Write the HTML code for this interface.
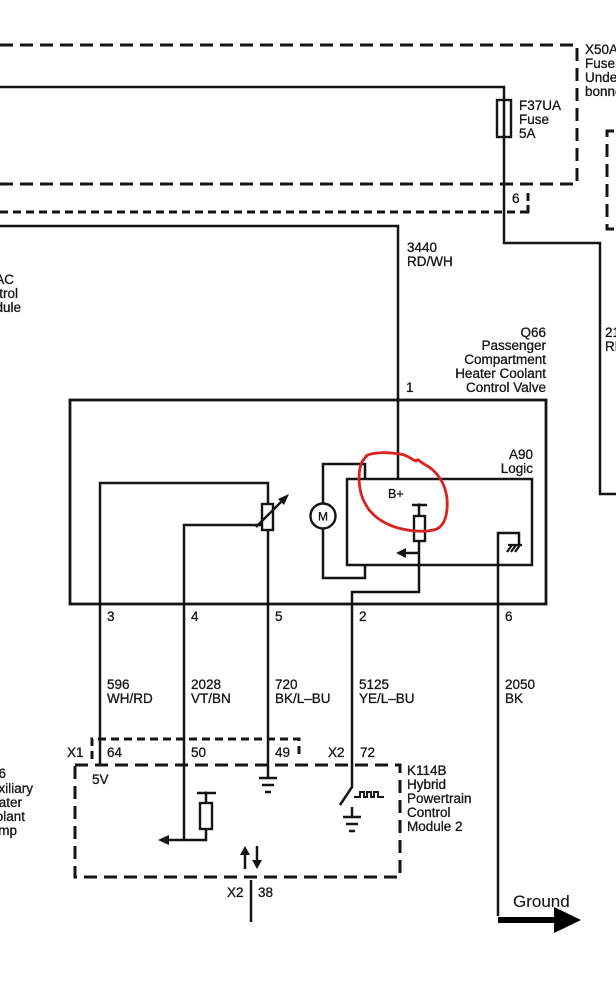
<!DOCTYPE html>
<html>
<head>
<meta charset="utf-8">
<style>
html,body{margin:0;padding:0;background:#fff;}
svg{display:block;}
text{font-family:"Liberation Sans",Arial,sans-serif;font-size:13.5px;fill:#151515;stroke:#151515;stroke-width:0.3px;}
</style>
</head>
<body>
<svg width="616" height="1000" viewBox="0 0 616 1000" xmlns="http://www.w3.org/2000/svg">
<rect x="0" y="0" width="616" height="1000" fill="#fff"/>

<!-- Dashed boxes -->
<g fill="none" stroke="#151515" stroke-width="3">
  <path d="M0,45 H577 V184 H0" stroke-dasharray="13 7"/>
  <path d="M0,212 H524" stroke-dasharray="8 5"/>
  <path d="M614,131 H607 V229 H614" stroke-dasharray="13 7"/>
  <path d="M92,759 V739 H299 V759" stroke-dasharray="8 5"/>
  <rect x="75" y="765" width="325" height="112" stroke-dasharray="13 7"/>
</g>
<path d="M528,193 V201 M528,205 V213 M521,212 H529" stroke="#151515" stroke-width="3" fill="none"/>

<!-- Solid wires -->
<g fill="none" stroke="#151515" stroke-width="2.5" stroke-linejoin="miter">
  <path d="M0,87 H504 V243 H600 V494 H616"/>
  <path d="M0,226 H398 V479"/>
  <rect x="70" y="400" width="476" height="204" stroke-width="2.8"/>
  <rect x="347" y="479" width="185" height="86"/>
  <!-- motor loop -->
  <path d="M365,479 V464 H323 V578 H365 V565"/>
  <!-- wire 3 / 5 loop -->
  <path d="M100,765 V483 H268 V778"/>
  <!-- wire 4 -->
  <path d="M262,525 H184 V840 H206 V829"/>
  <path d="M184,840 H168"/>
  <!-- wire 2 -->
  <path d="M419,541 V592 H352 V787 L340,805"/>
  <!-- wire 6 -->
  <path d="M498,916 V533 H519 V545"/>
  <!-- A90 pullup -->
  <path d="M412,505 H427 M419,505 V516"/>
  <path d="M419,553 H405"/>
  <!-- A90 chassis ground -->
  <path d="M508,545 H522 M512,545 L507,552 M516,545 L511,552 M520,545 L515,552" stroke-width="2.2"/>
  <!-- K114B pullup -->
  <path d="M197,793 H216 M206,793 V803"/>
  <!-- grounds -->
  <path d="M259,778 H277 M262,785 H274 M265,792 H271"/>
  <path d="M352,807 V817 M343,817 H361 M346,824 H358 M349,831 H355"/>
  <!-- pulse -->
  <path d="M354,797 H360 V792 H364 V797 H367 V792 H371 V797 H374 V792 H378 V797 H384" stroke-width="1.9"/>
  <!-- up/down arrows -->
  <path d="M245,869 V852 M257,846 V863"/>
  <!-- X2 38 -->
  <path d="M251,880 V922"/>
</g>

<!-- fuse, resistors, motor -->
<g fill="#fff" stroke="#151515" stroke-width="2.4">
  <rect x="497" y="100" width="14" height="37" fill="none"/>
  <rect x="262" y="504" width="11" height="26"/>
  <rect x="414" y="516" width="11" height="25"/>
  <rect x="200" y="803" width="12" height="26"/>
  <circle cx="323" cy="516" r="12.5"/>
</g>
<!-- var resistor arrow over rect -->
<path d="M256,527 L282,501" stroke="#151515" stroke-width="2.4" fill="none"/>

<!-- arrowheads -->
<g fill="#151515">
  <polygon points="289,494 278,499 284,505"/>
  <polygon points="396,553 406,548 406,558"/>
  <polygon points="158,840 169,835 169,845"/>
  <polygon points="245,846 240,855 250,855"/>
  <polygon points="257,869 252,860 262,860"/>
  <circle cx="419" cy="505" r="1.8"/>
  <circle cx="206" cy="793" r="1.5"/>
</g>

<!-- ground arrow -->
<path d="M498,920 H557" stroke="#000" stroke-width="6" fill="none"/>
<polygon points="554,907 581,920 554,933" fill="#000"/>

<!-- red circle -->
<path d="M366,456 C372,452 388,452 400,454 C408,455 412,460 416,461 C418,458 420,462 424,464 C436,470 445,482 447,498 C448,512 446,524 437,529 C425,533 410,531 398,528 C384,524 372,516 366,505 C359,494 358,478 360,468 C361,462 364,458 368,455" fill="none" stroke="#d8231f" stroke-width="2.8" stroke-linecap="round"/>

<!-- Texts -->
<text x="585" y="54">X50A</text>
<text x="585" y="68">Fuse</text>
<text x="585" y="82">Underhood</text>
<text x="585" y="96">bonnet</text>

<text x="519" y="110">F37UA</text>
<text x="519" y="124">Fuse</text>
<text x="519" y="138">5A</text>

<text x="512" y="203">6</text>

<text x="407" y="252">3440</text>
<text x="407" y="266">RD/WH</text>

<text x="14" y="284" text-anchor="end">HVAC</text>
<text x="18" y="298" text-anchor="end">Control</text>
<text x="21" y="312" text-anchor="end">Module</text>

<text x="605" y="337">2150</text>
<text x="605" y="351">RD</text>

<text x="546" y="337" text-anchor="end">Q66</text>
<text x="546" y="350" text-anchor="end">Passenger</text>
<text x="546" y="364" text-anchor="end">Compartment</text>
<text x="546" y="378" text-anchor="end">Heater Coolant</text>
<text x="546" y="392" text-anchor="end">Control Valve</text>

<text x="406" y="392">1</text>

<text x="533" y="459" text-anchor="end">A90</text>
<text x="533" y="473" text-anchor="end">Logic</text>

<text x="388" y="498" style="font-size:12.5px">B+</text>
<text x="323" y="520.5" text-anchor="middle" style="font-size:12px">M</text>

<text x="107" y="621">3</text>
<text x="191" y="621">4</text>
<text x="275" y="621">5</text>
<text x="359" y="621">2</text>
<text x="505" y="621">6</text>

<text x="107" y="689">596</text>
<text x="107" y="703">WH/RD</text>
<text x="191" y="689">2028</text>
<text x="191" y="703">VT/BN</text>
<text x="275" y="689">720</text>
<text x="275" y="703">BK/L–BU</text>
<text x="359" y="689">5125</text>
<text x="359" y="703">YE/L–BU</text>
<text x="505" y="689">2050</text>
<text x="505" y="703">BK</text>

<text x="67" y="757">X1</text>
<text x="107" y="757">64</text>
<text x="191" y="757">50</text>
<text x="275" y="757">49</text>
<text x="328" y="757">X2</text>
<text x="360" y="757">72</text>

<text x="92" y="784">5V</text>

<text x="407" y="775">K114B</text>
<text x="407" y="789">Hybrid</text>
<text x="407" y="803">Powertrain</text>
<text x="407" y="817">Control</text>
<text x="407" y="831">Module 2</text>

<text x="6" y="778" text-anchor="end">G16</text>
<text x="33" y="793" text-anchor="end">Auxiliary</text>
<text x="22" y="807" text-anchor="end">Heater</text>
<text x="25" y="821" text-anchor="end">Coolant</text>
<text x="17" y="835" text-anchor="end">Pump</text>

<text x="227" y="897">X2</text>
<text x="258" y="897">38</text>

<text x="513" y="907" style="font-size:17px;stroke-width:0.1px">Ground</text>
</svg>
</body>
</html>
